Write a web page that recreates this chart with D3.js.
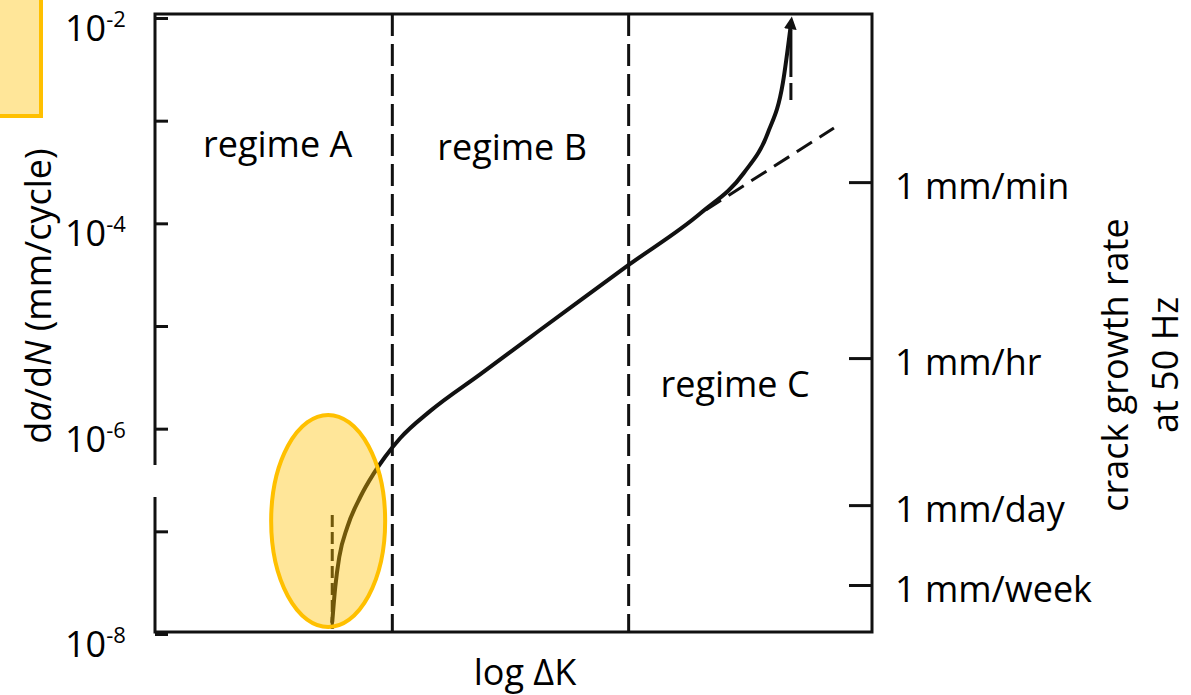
<!DOCTYPE html>
<html>
<head>
<meta charset="utf-8">
<script src="https://cdn.jsdelivr.net/npm/d3@7"></script>
<style>
  html, body { margin: 0; padding: 0; background: #fff; }
  svg { display: block; }
  text { font-family: "Open Sans", "DejaVu Sans", sans-serif; fill: #000; }
</style>
</head>
<body>
<svg id="chart" width="1191" height="695"></svg>
<script>
// Fatigue crack growth curve: da/dN against log ΔK (arbitrary log units)
const curveLogK = [2.472, 2.514, 2.570, 2.682, 2.863, 3.045, 3.208, 3.422, 3.841, 4.539,
                   5.237, 5.936, 6.606, 7.612, 8.212, 8.547, 8.757, 8.869];
const curveRate = [1.31e-8, 2.87e-8, 5.62e-8, 1.10e-7, 2.16e-7, 3.61e-7, 5.30e-7, 8.11e-7, 1.49e-6, 3.40e-6,
                   7.81e-6, 1.79e-5, 3.93e-5, 1.26e-4, 3.09e-4, 7.59e-4, 2.33e-3, 8.73e-3];

// Paris-law extension beyond the onset of regime C
const parisLogK = [7.682, 9.469];
const parisRate = [1.35e-4, 8.48e-4];

// Threshold ΔK_th and final fracture K_c markers
const thresholdLogK = 2.472;
const thresholdRate = [1.0e-8, 1.44e-7];
const fractureLogK = 8.869;
const fractureRate = [8.17e-3, 1.59e-3];

// Regime boundaries and labels
const boundaryLogK = [3.310, 6.606];
const regimeNames = ["regime A", "regime B", "regime C"];
const regimeLogK = [1.71, 4.98, 8.09];
const regimeRate = [4.43e-4, 4.14e-4, 2.03e-6];

// Left axis: decades of da/dN (mm/cycle)
const decadeTicks = [1e-8, 1e-7, 1e-6, 1e-5, 1e-4, 1e-3, 1e-2];
const decadeLabelExp = [-8, -6, -4, -2];

// Right axis: equivalent crack growth rates at 50 Hz
const rateNames = ["1 mm/min", "1 mm/hr", "1 mm/day", "1 mm/week"];
const rateValues = [2.52e-4, 4.87e-6, 1.80e-7, 3.00e-8];

// Highlighted near-threshold zone
const highlightLogK = [1.62, 3.21];
const highlightRate = [1.17e-8, 1.36e-6];

const svg = d3.select("#chart");
const box = { left: 155, right: 872, top: 14, bottom: 632 };

const x = d3.scaleLinear().domain([0, 10]).range([box.left, box.right]);
const y = d3.scaleLog().domain([1e-8, 1e-2]).range([634, 18]);

// corner note box, partly outside the page
svg.append("rect")
  .attr("x", -10).attr("y", -10).attr("width", 51).attr("height", 126)
  .attr("fill", "#FFE699").attr("stroke", "#FFC000").attr("stroke-width", 4);

// plot frame
svg.append("rect")
  .attr("x", box.left).attr("y", box.top)
  .attr("width", box.right - box.left).attr("height", box.bottom - box.top)
  .attr("fill", "none").attr("stroke", "#111").attr("stroke-width", 3);

// left axis ticks (inward)
const leftAxis = svg.append("g")
  .attr("transform", `translate(${box.left},0)`)
  .call(d3.axisLeft(y).tickValues(decadeTicks).tickSize(-13).tickFormat(""));
leftAxis.select(".domain").remove();
leftAxis.selectAll(".tick line").attr("stroke", "#111").attr("stroke-width", 3);

// left axis labels 10^n
const decadeLabels = svg.append("g").selectAll("text")
  .data(decadeLabelExp).join("text")
  .attr("x", 65)
  .attr("y", d => y(Math.pow(10, d)) + 23)
  .attr("font-size", 36);
decadeLabels.append("tspan").text("10");
decadeLabels.append("tspan")
  .attr("font-size", 22).attr("dy", -14)
  .text(d => "-" + Math.abs(d));

// right axis ticks (inward) with rate labels
const rightAxis = svg.append("g")
  .attr("transform", `translate(${box.right},0)`)
  .call(d3.axisRight(y).tickValues(rateValues).tickSize(-23).tickPadding(23)
    .tickFormat((d, i) => rateNames[i]));
rightAxis.select(".domain").remove();
rightAxis.selectAll(".tick line").attr("stroke", "#111").attr("stroke-width", 3);
rightAxis.selectAll(".tick text")
  .attr("font-size", 36).attr("dy", "0.45em")
  .attr("fill", "#000").style("font-family", "'Open Sans', sans-serif");

// regime boundaries
svg.append("g").selectAll("line")
  .data(boundaryLogK).join("line")
  .attr("x1", d => x(d)).attr("x2", d => x(d))
  .attr("y1", box.top).attr("y2", box.bottom)
  .attr("stroke", "#111").attr("stroke-width", 3)
  .attr("stroke-dasharray", "22,8");

// regime labels
svg.append("g").selectAll("text")
  .data(regimeNames).join("text")
  .attr("x", (d, i) => x(regimeLogK[i]))
  .attr("y", (d, i) => y(regimeRate[i]))
  .attr("text-anchor", "middle")
  .attr("font-size", 36)
  .text(d => d);

// Paris-law extension
svg.append("line")
  .attr("x1", x(parisLogK[0])).attr("y1", y(parisRate[0]))
  .attr("x2", x(parisLogK[1])).attr("y2", y(parisRate[1]))
  .attr("stroke", "#111").attr("stroke-width", 3)
  .attr("stroke-dasharray", "18,9");

// threshold marker
svg.append("line")
  .attr("x1", x(thresholdLogK)).attr("x2", x(thresholdLogK))
  .attr("y1", y(thresholdRate[1])).attr("y2", y(thresholdRate[0]))
  .attr("stroke", "#111").attr("stroke-width", 3)
  .attr("stroke-dasharray", "12,5");

// final fracture marker
svg.append("line")
  .attr("x1", x(fractureLogK)).attr("x2", x(fractureLogK))
  .attr("y1", y(fractureRate[0])).attr("y2", y(fractureRate[1]))
  .attr("stroke", "#111").attr("stroke-width", 3)
  .attr("stroke-dasharray", "50,6,20,100");

// arrow head for the growth curve
svg.append("defs").append("marker")
  .attr("id", "arrow").attr("viewBox", "0 0 10 10")
  .attr("refX", 4).attr("refY", 5)
  .attr("markerWidth", 3.2).attr("markerHeight", 3.2)
  .attr("markerUnits", "strokeWidth")
  .attr("orient", "auto")
  .append("path").attr("d", "M0,0L10,5L0,10Z").attr("fill", "#111");

// crack growth curve
const points = curveLogK.map((k, i) => [x(k), y(curveRate[i])]);
svg.append("path")
  .attr("d", d3.line().curve(d3.curveMonotoneX)(points))
  .attr("fill", "none").attr("stroke", "#111").attr("stroke-width", 4)
  .attr("stroke-linecap", "round")
  .attr("marker-end", "url(#arrow)");

// highlighted near-threshold zone
const hx0 = x(highlightLogK[0]), hx1 = x(highlightLogK[1]);
const hy0 = y(highlightRate[1]), hy1 = y(highlightRate[0]);
svg.append("ellipse")
  .attr("cx", (hx0 + hx1) / 2).attr("cy", (hy0 + hy1) / 2)
  .attr("rx", (hx1 - hx0) / 2).attr("ry", (hy1 - hy0) / 2)
  .attr("fill", "rgba(255,192,0,0.4)")
  .attr("stroke", "#FFC000").attr("stroke-width", 4);

// gap left by the axis title box
svg.append("rect")
  .attr("x", 153).attr("y", 465).attr("width", 8).attr("height", 32)
  .attr("fill", "#fff");

// axis titles
const yTitle = svg.append("text")
  .attr("transform", "translate(51,296) rotate(-90)")
  .attr("text-anchor", "middle")
  .attr("font-size", 36);
yTitle.append("tspan").text("d");
yTitle.append("tspan").attr("font-style", "italic").text("a");
yTitle.append("tspan").text("/d");
yTitle.append("tspan").attr("font-style", "italic").text("N");
yTitle.append("tspan").text(" (mm/cycle)");

svg.append("text")
  .attr("x", 525).attr("y", 685)
  .attr("text-anchor", "middle")
  .attr("font-size", 36)
  .text("log ΔK");

const rTitle = svg.append("text")
  .attr("transform", "translate(1128,365) rotate(-90)")
  .attr("text-anchor", "middle")
  .attr("font-size", 36);
rTitle.append("tspan").attr("x", 0).attr("y", 0).text("crack growth rate");
rTitle.append("tspan").attr("x", 0).attr("y", 50).text("at 50 Hz");
</script>
</body>
</html>
